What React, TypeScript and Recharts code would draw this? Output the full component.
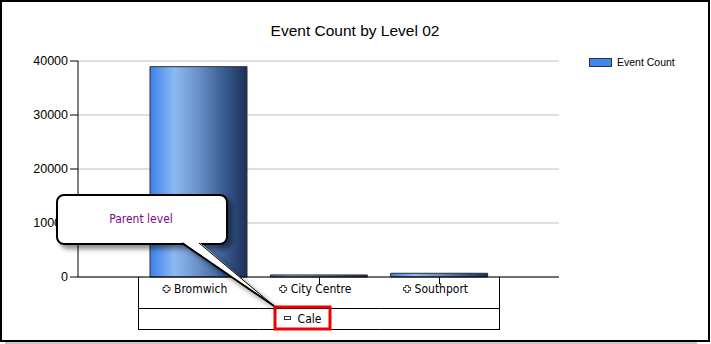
import React from 'react';
import { BarChart, Bar, XAxis, YAxis, CartesianGrid, Legend } from 'recharts';

const chartTitle = 'Event Count by Level 02';
const seriesName = 'Event Count';
const categories = ['Bromwich', 'City Centre', 'Southport'];
const eventCounts = [38950, 380, 690];
const yTicks = [0, 10000, 20000, 30000, 40000];
const parentLabel = 'Cale';
const calloutText = 'Parent level';

const data = categories.map((name, i) => ({ name, count: eventCounts[i] }));

const W = 711;
const H = 344;
const MARGIN = { top: 61, right: 152, bottom: 0, left: 0 };
const Y_W = 78;
const X_H = 67;
const PAD = 60;
const PLOT_W = W - MARGIN.left - Y_W - MARGIN.right;
const BAND = (PLOT_W - 2 * PAD) / categories.length;

const LABEL_FAMILY = '"DejaVu Sans Condensed", "DejaVu Sans", sans-serif';
const LABEL_SIZE = 12;
const LABEL_FONT = `${LABEL_SIZE}px ${LABEL_FAMILY}`;
let ctx: CanvasRenderingContext2D | null = null;
function textWidth(s: string, font: string): number {
  if (!ctx) ctx = document.createElement('canvas').getContext('2d');
  if (!ctx) return s.length * 6.5;
  ctx.font = font;
  return ctx.measureText(s).width;
}
const px = (v: number) => Math.round(v) + 0.5;

function PlusIcon({ cx, cy }: { cx: number; cy: number }) {
  const a = 1.5;
  const b = 3.5;
  const d = `M${cx - a},${cy - b}H${cx + a}V${cy - a}H${cx + b}V${cy + a}H${cx + a}V${cy + b}H${cx - a}V${cy + a}H${cx - b}V${cy - a}H${cx - a}Z`;
  return <path d={d} fill="#fff" stroke="#333" strokeWidth={1} />;
}

function CategoryTick(props: any) {
  const { x, y, payload, index } = props;
  const n = categories.length;
  const half = BAND / 2;
  const label = String(payload.value);
  const tw = textWidth(label, LABEL_FONT);
  const gw = 11 + tw;
  const left = x - 3 - gw / 2;
  const lx = px(x - half);
  const rx = px(x + half);
  let parent: React.ReactNode = null;
  if (index === n - 1) {
    const tableCenter = x - ((n - 1) / 2) * BAND;
    const pc = tableCenter - 16;
    const pw = 14 + textWidth(parentLabel, LABEL_FONT);
    const pl = pc - pw / 2;
    parent = (
      <g>
        <rect x={Math.round(pl) + 0.5} y={y + 39.5} width={6} height={3} fill="#fff" stroke="#333" strokeWidth={1} />
        <text x={pl + 14} y={y + 46} fontFamily={LABEL_FAMILY} fontSize={LABEL_SIZE} fill="#000">
          {parentLabel}
        </text>
        <rect x={pc - 27.5} y={y + 30} width={55} height={22} fill="none" stroke="#f00000" strokeWidth={3} />
      </g>
    );
  }
  return (
    <g>
      {index > 0 && <line x1={px(x)} x2={px(x)} y1={y} y2={y + 7} stroke="#000" />}
      <line x1={lx} x2={rx} y1={y + 31.5} y2={y + 31.5} stroke="#000" />
      <line x1={lx} x2={rx} y1={y + 52.5} y2={y + 52.5} stroke="#000" />
      {index === 0 && <line x1={lx} x2={lx} y1={y} y2={y + 53} stroke="#000" />}
      {index === n - 1 && <line x1={rx} x2={rx} y1={y} y2={y + 53} stroke="#000" />}
      <PlusIcon cx={left + 3.5} cy={y + 12} />
      <text x={left + 11} y={y + 16} fontFamily={LABEL_FAMILY} fontSize={LABEL_SIZE} fill="#000">
        {label}
      </text>
      {parent}
    </g>
  );
}

function LegendContent() {
  return (
    <div style={{ display: 'flex', alignItems: 'center', fontFamily: '"Liberation Sans", Arial, sans-serif', fontSize: 10.5, lineHeight: '14px', color: '#000', whiteSpace: 'nowrap' }}>
      <span style={{ display: 'inline-block', width: 21, height: 7, border: '1px solid #333', background: '#3d87f0' }} />
      <span style={{ marginLeft: 5 }}>{seriesName}</span>
    </div>
  );
}

export default function App() {
  return (
    <div style={{ position: 'absolute', left: 0, top: 0, width: W, height: H, background: '#fff' }}>
      <svg width={0} height={0} style={{ position: 'absolute' }}>
        <defs>
          <linearGradient id="barGrad" x1="0" y1="0" x2="1" y2="0">
            <stop offset="0" stopColor="#3b80e8" />
            <stop offset="0.25" stopColor="#8cbaf3" />
            <stop offset="0.5" stopColor="#6a90c8" />
            <stop offset="0.75" stopColor="#3c5f95" />
            <stop offset="1" stopColor="#1b3057" />
          </linearGradient>
          <filter id="calloutShadow" x="-20%" y="-20%" width="150%" height="160%">
            <feDropShadow dx="4" dy="4" stdDeviation="2.5" floodColor="#000" floodOpacity="0.45" />
          </filter>
        </defs>
      </svg>
      <div style={{ position: 'absolute', left: 0, top: 0, width: 710, height: 342, border: '2px solid #000', boxSizing: 'border-box' }} />
      <div style={{ position: 'absolute', left: 5, top: 342, width: 692, height: 2, background: '#c8c8c8' }} />
      <div style={{ position: 'absolute', left: 0, top: 0 }}>
        <BarChart width={W} height={H} data={data} margin={MARGIN}>
          <CartesianGrid horizontal vertical={false} stroke="#c0c0c0" />
          <YAxis
            width={Y_W}
            domain={[0, 40000]}
            ticks={yTicks}
            interval={0}
            tickSize={8}
            tickMargin={2}
            axisLine={{ stroke: '#000' }}
            tickLine={{ stroke: '#000' }}
            tick={{ fill: '#000', fontSize: 12.5, fontFamily: '"Liberation Sans", Arial, sans-serif' }}
          />
          <YAxis
            yAxisId="frame"
            orientation="right"
            width={0}
            domain={[0, 40000]}
            tick={false}
            tickLine={false}
            axisLine={{ stroke: '#c0c0c0' }}
          />
          <Bar dataKey="count" name={seriesName} fill="url(#barGrad)" stroke="#2e2e2e" strokeWidth={1} barSize={97} isAnimationActive={false} />
          <XAxis
            dataKey="name"
            height={X_H}
            padding={{ left: PAD, right: PAD }}
            interval={0}
            tickSize={0}
            tickMargin={0}
            tickLine={false}
            axisLine={{ stroke: '#000' }}
            tick={<CategoryTick />}
          />
          <Legend
            layout="horizontal"
            verticalAlign="middle"
            align="center"
            wrapperStyle={{ position: 'absolute', top: 55, left: 589, width: 120, height: 14 }}
            content={() => <LegendContent />}
          />
        </BarChart>
      </div>
      <svg width={W} height={H} style={{ position: 'absolute', left: 0, top: 0, pointerEvents: 'none' }}>
        <text x={355} y={36} textAnchor="middle" fontFamily='"Liberation Sans", Arial, sans-serif' fontSize={15.5} fill="#000">
          {chartTitle}
        </text>
        <g filter="url(#calloutShadow)">
          <rect x={57} y={195} width={170} height={49} rx={7} ry={7} fill="#fff" stroke="#000" strokeWidth={2} />
          <path d="M182,242 L199,242 L274,306 Z" fill="#fff" stroke="none" />
          <line x1={182} y1={243} x2={274} y2={306} stroke="#000" strokeWidth={2} />
          <line x1={199} y1={243} x2={274} y2={306} stroke="#000" strokeWidth={1} />
        </g>
        <text x={141} y={223} textAnchor="middle" fontFamily={LABEL_FAMILY} fontSize={LABEL_SIZE} fill="#7a0a8a">
          {calloutText}
        </text>
      </svg>
    </div>
  );
}
